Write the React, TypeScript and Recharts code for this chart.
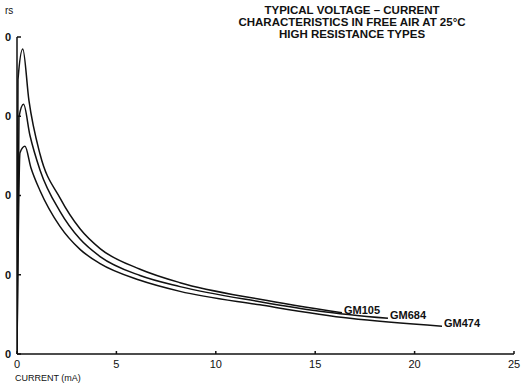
import { LineChart, Line, XAxis, YAxis } from 'recharts';

const FONT = '"Liberation Sans", Arial, sans-serif';

const seriesNames = ['GM105', 'GM684', 'GM474'];

// current in mA, voltage (V)
const gm105Current = [0, 0.05, 0.29, 0.6, 1.16, 2.16, 3.17, 4.18, 6.19, 8.2, 12.22, 16.35];
const gm105Volts = [0, 346, 385, 320, 252, 197, 158, 133, 107, 90, 69, 52];

const gm684Current = [0, 0.1, 0.33, 0.65, 1.16, 2.16, 3.17, 4.18, 6.19, 8.2, 12.22, 15.24, 18.66];
const gm684Volts = [0, 299, 315, 276, 232, 180, 145, 123, 99, 85, 66, 54, 45];

const gm474Current = [0, 0.15, 0.4, 0.7, 1.16, 2.16, 3.17, 4.18, 6.19, 8.2, 12.22, 16.75, 21.38];
const gm474Volts = [0, 254, 262, 235, 206, 161, 132, 114, 93, 79, 62, 45, 35];

const xTicks = [0, 5, 10, 15, 20, 25];
const yTicks = [0, 100, 200, 300, 400];

const titleLines = [
  'TYPICAL VOLTAGE \u2013 CURRENT',
  'CHARACTERISTICS IN FREE AIR AT 25°C',
  'HIGH RESISTANCE TYPES',
];

const toPoints = (current: number[], volts: number[]) =>
  current.map((i, k) => ({ i, v: volts[k] }));

const series = [
  { name: seriesNames[0], data: toPoints(gm105Current, gm105Volts) },
  { name: seriesNames[1], data: toPoints(gm684Current, gm684Volts) },
  { name: seriesNames[2], data: toPoints(gm474Current, gm474Volts) },
];

// only the last point of each curve gets its type name
const endLabel = (name: string, count: number) => (props: any) => {
  if (props.index !== count - 1) return <g />;
  return (
    <text
      x={props.x + 2}
      y={props.y + 1}
      fontSize={11}
      fontWeight="bold"
      fill="#111"
      fontFamily={FONT}
    >
      {name}
    </text>
  );
};

const App = () => {
  return (
    <div style={{ position: 'absolute', left: 0, top: 0, width: 523, height: 385, background: '#fff' }}>
      <LineChart width={523} height={385} margin={{ top: 37, right: 9, bottom: 0, left: 0 }}>
        <XAxis
          type="number"
          dataKey="i"
          domain={[0, 25]}
          ticks={xTicks}
          allowDataOverflow
          height={31}
          stroke="#111"
          strokeWidth={1.5}
          tickSize={-3}
          tickMargin={9}
          tick={{ fill: '#111', fontSize: 11, fontFamily: FONT }}
        />
        <YAxis
          type="number"
          dataKey="v"
          domain={[0, 400]}
          ticks={yTicks}
          width={17}
          stroke="#111"
          strokeWidth={1.5}
          tickSize={-4}
          tickMargin={10}
          tickFormatter={(v) => String(v).slice(-1)}
          tick={{ fill: '#111', fontSize: 11, fontWeight: 'bold', fontFamily: FONT }}
        />
        {series.map((s) => (
          <Line
            key={s.name}
            data={s.data}
            dataKey="v"
            type="monotone"
            stroke="#111"
            strokeWidth={1.5}
            dot={false}
            isAnimationActive={false}
            label={endLabel(s.name, s.data.length)}
          />
        ))}
      </LineChart>
      <div
        style={{
          position: 'absolute',
          left: 202,
          top: 4,
          width: 300,
          textAlign: 'center',
          fontFamily: FONT,
          fontWeight: 'bold',
          fontSize: 11.5,
          lineHeight: '12px',
          color: '#111',
        }}
      >
        {titleLines.map((t) => (
          <div key={t}>{t}</div>
        ))}
      </div>
      <div style={{ position: 'absolute', left: 5, top: 5, fontFamily: FONT, fontSize: 10, color: '#111' }}>rs</div>
      <div style={{ position: 'absolute', left: 15, top: 373, fontFamily: FONT, fontSize: 9, color: '#111' }}>
        CURRENT (mA)
      </div>
    </div>
  );
};

export default App;
